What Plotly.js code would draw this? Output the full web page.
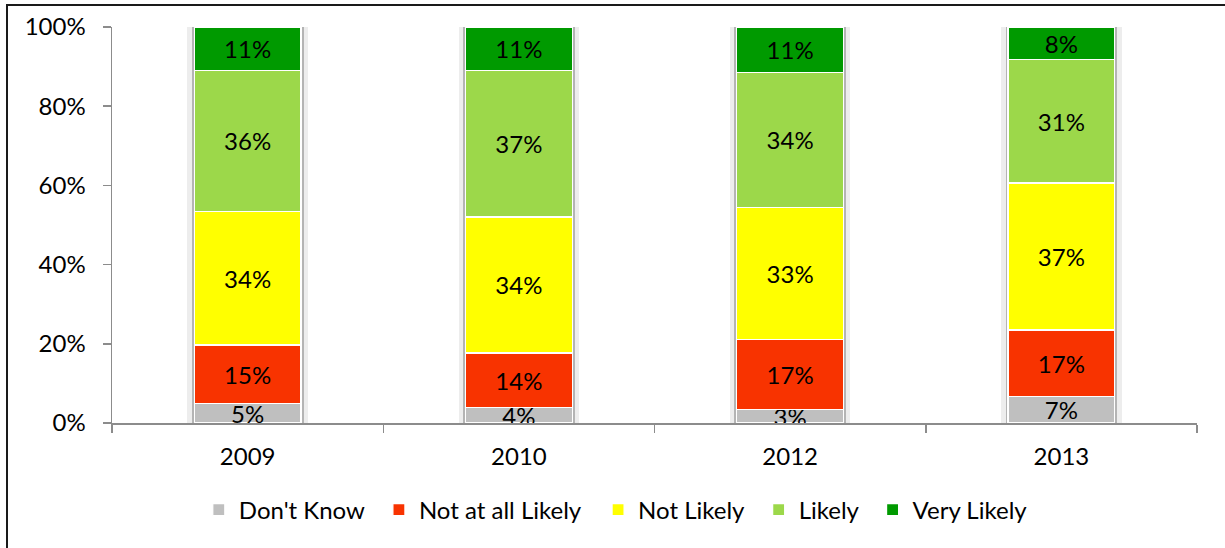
<!DOCTYPE html>
<html>
<head>
<meta charset="utf-8">
<script src="https://cdn.plot.ly/plotly-3.0.1.min.js"></script>
<style>
  html, body { margin: 0; padding: 0; background: #fff; }
  #wrap { position: relative; width: 1225px; height: 548px; overflow: hidden; }
  #chart { width: 1225px; height: 548px; }
  #frame { position: absolute; left: 6px; top: 4px; width: 1300px; height: 600px;
           border-left: 2px solid #1a1a1a; border-top: 2px solid #1a1a1a; pointer-events: none; }
</style>
</head>
<body>
<div id="wrap">
  <div id="chart"></div>
  <div id="frame"></div>
</div>
<script>
const years = ['2009', '2010', '2012', '2013'];
const seriesNames = ["Don't Know", 'Not at all Likely', 'Not Likely', 'Likely', 'Very Likely'];
const dontKnow       = [4.9, 3.9, 3.5, 6.6];
const notAtAllLikely = [14.8, 13.8, 17.5, 16.9];
const notLikely      = [33.8, 34.3, 33.5, 37.1];
const likely         = [35.6, 37.1, 34.1, 31.2];
const veryLikely     = [10.9, 10.9, 11.4, 8.2];
const dontKnowLabels       = ['5%', '4%', '3%', '7%'];
const notAtAllLikelyLabels = ['15%', '14%', '17%', '17%'];
const notLikelyLabels      = ['34%', '34%', '33%', '37%'];
const likelyLabels         = ['36%', '37%', '34%', '31%'];
const veryLikelyLabels     = ['11%', '11%', '11%', '8%'];
const totals = [100, 100, 100, 100];
const yTicks = [0, 20, 40, 60, 80, 100];
const yTickLabels = ['0%', '20%', '40%', '60%', '80%', '100%'];

const colors = ['#BFBFBF', '#F83300', '#FFFF00', '#9CD84A', '#009A00'];
const values = [dontKnow, notAtAllLikely, notLikely, likely, veryLikely];
const labels = [dontKnowLabels, notAtAllLikelyLabels, notLikelyLabels, likelyLabels, veryLikelyLabels];
const legendIds = ['legend', 'legend2', 'legend3', 'legend4', 'legend5'];
const legendX = [0.080, 0.246, 0.448, 0.596, 0.701];

const FONT = 'Lato, "Open Sans", sans-serif';
const FS = 24;

const traces = [];
// soft shadow behind each column
traces.push({
  type: 'bar', x: years, y: totals, width: 0.445, offset: -0.2225, xaxis: 'x', yaxis: 'y',
  marker: { color: '#EDEDED', line: { width: 0 } },
  showlegend: false, hoverinfo: 'skip'
});
// thin gray outline of each column
traces.push({
  type: 'bar', x: years, y: totals, width: 0.412, offset: -0.206, xaxis: 'x2', yaxis: 'y',
  marker: { color: '#B4B4B4', line: { width: 0 } },
  showlegend: false, hoverinfo: 'skip'
});
values.forEach((v, i) => {
  traces.push({
    type: 'bar', name: seriesNames[i], x: years, y: v, width: 0.394, offset: -0.197,
    xaxis: 'x3', yaxis: 'y', legend: legendIds[i],
    text: labels[i], textposition: 'inside', insidetextanchor: 'middle',
    textangle: 0, constraintext: 'none',
    textfont: { family: FONT, size: FS, color: '#000' },
    marker: { color: colors[i], line: { color: '#FFFFFF', width: 1.2 } },
    hoverinfo: 'name+y'
  });
});

const xRange = [-0.5, years.length - 0.5];
const overlayAxis = {
  overlaying: 'x', type: 'category', categoryorder: 'array', categoryarray: years,
  range: xRange, autorange: false,
  showticklabels: false, showline: false, ticks: '', showgrid: false, zeroline: false
};

const layout = {
  width: 1225, height: 548,
  margin: { l: 112, r: 28, t: 27, b: 125 },
  paper_bgcolor: '#FFFFFF', plot_bgcolor: '#FFFFFF',
  barmode: 'stack',
  bargap: 0.6,
  showlegend: true,
  uniformtext: { mode: 'show', minsize: FS },
  font: { family: FONT, size: FS, color: '#000' },
  xaxis: {
    type: 'category', categoryorder: 'array', categoryarray: years,
    range: xRange, autorange: false,
    showline: true, linecolor: '#8C8C8C', linewidth: 1.5,
    ticks: 'outside', tickson: 'boundaries', ticklen: 8, tickcolor: '#8C8C8C', tickwidth: 1.5,
    showgrid: false, zeroline: false,
    tickfont: { family: FONT, size: FS, color: '#000' },
    ticklabelstandoff: 12
  },
  xaxis2: Object.assign({}, overlayAxis),
  xaxis3: Object.assign({}, overlayAxis),
  yaxis: {
    range: [0, 100], tickvals: yTicks, ticktext: yTickLabels,
    showline: true, linecolor: '#8C8C8C', linewidth: 1.5,
    ticks: 'outside', ticklen: 8, tickcolor: '#8C8C8C', tickwidth: 1.5,
    showgrid: false, zeroline: false,
    tickfont: { family: FONT, size: FS, color: '#000' },
    ticklabelstandoff: 12
  }
};
legendIds.forEach((id, i) => {
  layout[id] = {
    orientation: 'h', x: legendX[i], xanchor: 'left', y: -0.22, yanchor: 'middle',
    font: { family: FONT, size: FS, color: '#000' },
    bgcolor: 'rgba(0,0,0,0)', borderwidth: 0
  };
});

Plotly.newPlot('chart', traces, layout, { displayModeBar: false, staticPlot: true });
</script>
</body>
</html>
